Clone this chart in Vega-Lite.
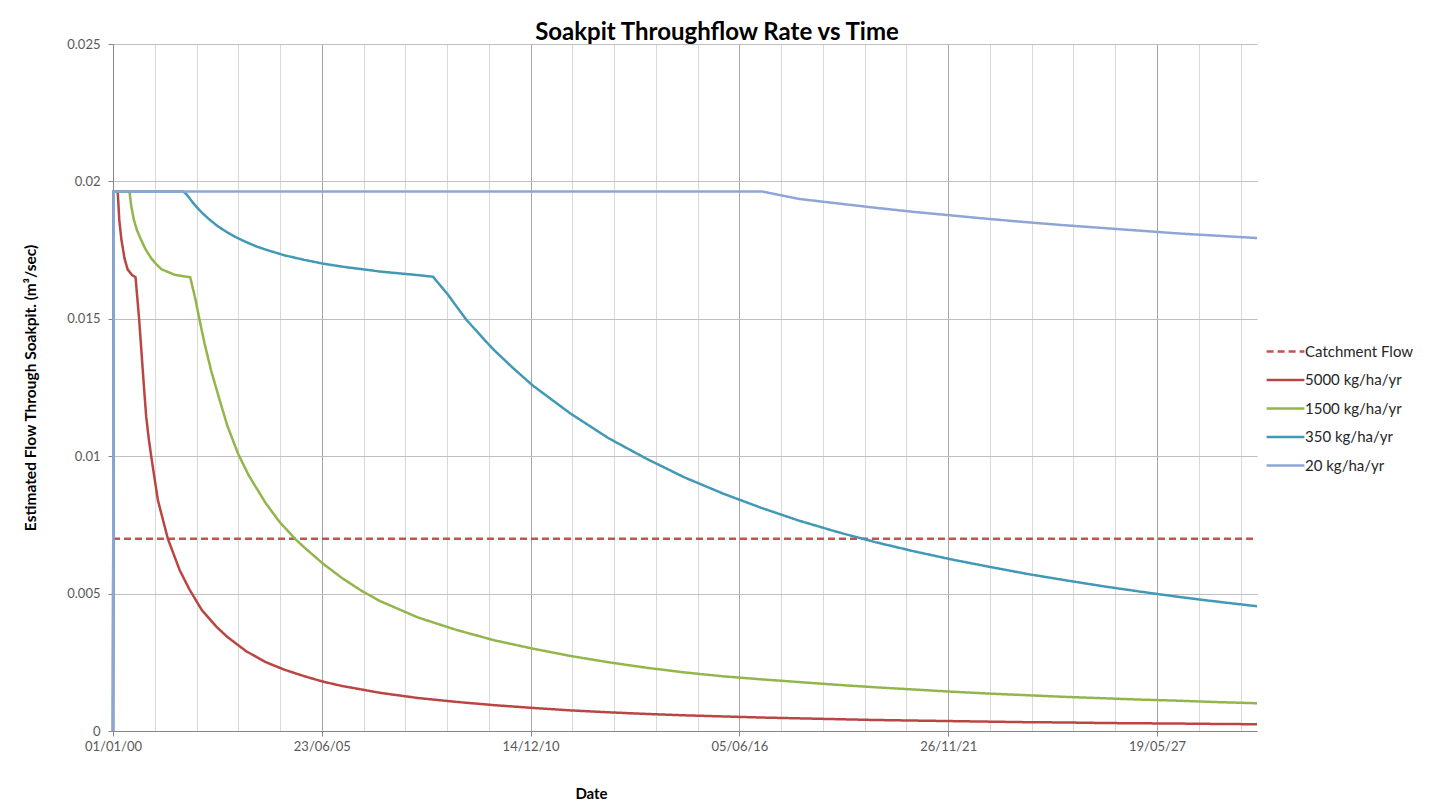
{
  "$schema": "https://vega.github.io/schema/vega-lite/v6.json",
  "autosize": {"type": "none"},
  "padding": {"left": 113, "top": 44, "right": 177, "bottom": 74},
  "width": 1144,
  "height": 687,
  "background": "white",
  "config": {"font": "Lato", "view": {"stroke": null}},
  "title": {"text": "Soakpit Throughflow Rate vs Time", "fontSize": 24, "fontWeight": "bold", "color": "#000000", "anchor": "middle", "frame": "group", "dx": 32, "offset": -7},
  "data": {"values": [
    {"date": "2000-01-01", "series": "Catchment Flow", "flow": 0.007},
    {"date": "2030-01-01", "series": "Catchment Flow", "flow": 0.007},

    {"date": "2000-01-01", "series": "5000 kg/ha/yr", "flow": 0},
    {"date": "2000-01-08", "series": "5000 kg/ha/yr", "flow": 0.01963},
    {"date": "2000-02-15", "series": "5000 kg/ha/yr", "flow": 0.01963},
    {"date": "2000-02-23", "series": "5000 kg/ha/yr", "flow": 0.0191},
    {"date": "2000-03-01", "series": "5000 kg/ha/yr", "flow": 0.0186},
    {"date": "2000-03-21", "series": "5000 kg/ha/yr", "flow": 0.0179},
    {"date": "2000-04-20", "series": "5000 kg/ha/yr", "flow": 0.0172},
    {"date": "2000-05-20", "series": "5000 kg/ha/yr", "flow": 0.0168},
    {"date": "2000-06-29", "series": "5000 kg/ha/yr", "flow": 0.0166},
    {"date": "2000-08-04", "series": "5000 kg/ha/yr", "flow": 0.01651},
    {"date": "2000-09-07", "series": "5000 kg/ha/yr", "flow": 0.015},
    {"date": "2000-10-07", "series": "5000 kg/ha/yr", "flow": 0.0134},
    {"date": "2000-10-25", "series": "5000 kg/ha/yr", "flow": 0.01245},
    {"date": "2000-11-14", "series": "5000 kg/ha/yr", "flow": 0.01144},
    {"date": "2000-12-08", "series": "5000 kg/ha/yr", "flow": 0.01065},
    {"date": "2001-01-01", "series": "5000 kg/ha/yr", "flow": 0.01},
    {"date": "2001-03-06", "series": "5000 kg/ha/yr", "flow": 0.0084},
    {"date": "2001-06-09", "series": "5000 kg/ha/yr", "flow": 0.007},
    {"date": "2001-09-30", "series": "5000 kg/ha/yr", "flow": 0.00586},
    {"date": "2002-01-01", "series": "5000 kg/ha/yr", "flow": 0.00516},
    {"date": "2002-05-01", "series": "5000 kg/ha/yr", "flow": 0.0044},
    {"date": "2002-09-16", "series": "5000 kg/ha/yr", "flow": 0.0038},
    {"date": "2003-01-01", "series": "5000 kg/ha/yr", "flow": 0.00342},
    {"date": "2003-07-01", "series": "5000 kg/ha/yr", "flow": 0.0029},
    {"date": "2004-01-01", "series": "5000 kg/ha/yr", "flow": 0.00251},
    {"date": "2004-07-01", "series": "5000 kg/ha/yr", "flow": 0.00223},
    {"date": "2005-01-01", "series": "5000 kg/ha/yr", "flow": 0.002},
    {"date": "2005-07-01", "series": "5000 kg/ha/yr", "flow": 0.0018},
    {"date": "2006-01-01", "series": "5000 kg/ha/yr", "flow": 0.00164},
    {"date": "2007-01-01", "series": "5000 kg/ha/yr", "flow": 0.00139},
    {"date": "2008-01-01", "series": "5000 kg/ha/yr", "flow": 0.0012},
    {"date": "2009-01-01", "series": "5000 kg/ha/yr", "flow": 0.00106},
    {"date": "2010-01-01", "series": "5000 kg/ha/yr", "flow": 0.00094},
    {"date": "2011-01-01", "series": "5000 kg/ha/yr", "flow": 0.00084},
    {"date": "2012-01-01", "series": "5000 kg/ha/yr", "flow": 0.00075},
    {"date": "2013-01-01", "series": "5000 kg/ha/yr", "flow": 0.00068},
    {"date": "2014-01-01", "series": "5000 kg/ha/yr", "flow": 0.00062},
    {"date": "2015-01-01", "series": "5000 kg/ha/yr", "flow": 0.00057},
    {"date": "2016-01-01", "series": "5000 kg/ha/yr", "flow": 0.00053},
    {"date": "2017-01-01", "series": "5000 kg/ha/yr", "flow": 0.00049},
    {"date": "2018-01-01", "series": "5000 kg/ha/yr", "flow": 0.00046},
    {"date": "2019-01-01", "series": "5000 kg/ha/yr", "flow": 0.00043},
    {"date": "2020-01-01", "series": "5000 kg/ha/yr", "flow": 0.0004},
    {"date": "2021-01-01", "series": "5000 kg/ha/yr", "flow": 0.00038},
    {"date": "2022-01-01", "series": "5000 kg/ha/yr", "flow": 0.00036},
    {"date": "2023-01-01", "series": "5000 kg/ha/yr", "flow": 0.00034},
    {"date": "2024-01-01", "series": "5000 kg/ha/yr", "flow": 0.00032},
    {"date": "2025-01-01", "series": "5000 kg/ha/yr", "flow": 0.00031},
    {"date": "2026-01-01", "series": "5000 kg/ha/yr", "flow": 0.00029},
    {"date": "2027-01-01", "series": "5000 kg/ha/yr", "flow": 0.00028},
    {"date": "2028-01-01", "series": "5000 kg/ha/yr", "flow": 0.00027},
    {"date": "2029-01-01", "series": "5000 kg/ha/yr", "flow": 0.000256},
    {"date": "2030-01-01", "series": "5000 kg/ha/yr", "flow": 0.000246},

    {"date": "2000-01-01", "series": "1500 kg/ha/yr", "flow": 0},
    {"date": "2000-01-08", "series": "1500 kg/ha/yr", "flow": 0.01963},
    {"date": "2000-06-07", "series": "1500 kg/ha/yr", "flow": 0.01963},
    {"date": "2000-06-24", "series": "1500 kg/ha/yr", "flow": 0.0191},
    {"date": "2000-07-19", "series": "1500 kg/ha/yr", "flow": 0.0186},
    {"date": "2000-08-18", "series": "1500 kg/ha/yr", "flow": 0.01822},
    {"date": "2000-09-23", "series": "1500 kg/ha/yr", "flow": 0.0179},
    {"date": "2000-11-06", "series": "1500 kg/ha/yr", "flow": 0.01754},
    {"date": "2001-01-01", "series": "1500 kg/ha/yr", "flow": 0.0172},
    {"date": "2001-02-20", "series": "1500 kg/ha/yr", "flow": 0.01698},
    {"date": "2001-04-11", "series": "1500 kg/ha/yr", "flow": 0.0168},
    {"date": "2001-08-15", "series": "1500 kg/ha/yr", "flow": 0.0166},
    {"date": "2002-01-10", "series": "1500 kg/ha/yr", "flow": 0.01651},
    {"date": "2002-03-01", "series": "1500 kg/ha/yr", "flow": 0.0157},
    {"date": "2002-04-09", "series": "1500 kg/ha/yr", "flow": 0.01496},
    {"date": "2002-05-27", "series": "1500 kg/ha/yr", "flow": 0.0141},
    {"date": "2002-07-30", "series": "1500 kg/ha/yr", "flow": 0.0131},
    {"date": "2002-10-18", "series": "1500 kg/ha/yr", "flow": 0.01205},
    {"date": "2003-01-01", "series": "1500 kg/ha/yr", "flow": 0.0111},
    {"date": "2003-04-12", "series": "1500 kg/ha/yr", "flow": 0.0101},
    {"date": "2003-07-24", "series": "1500 kg/ha/yr", "flow": 0.0093},
    {"date": "2003-11-06", "series": "1500 kg/ha/yr", "flow": 0.00865},
    {"date": "2004-01-01", "series": "1500 kg/ha/yr", "flow": 0.0083},
    {"date": "2004-05-16", "series": "1500 kg/ha/yr", "flow": 0.0076},
    {"date": "2004-10-22", "series": "1500 kg/ha/yr", "flow": 0.00695},
    {"date": "2005-01-01", "series": "1500 kg/ha/yr", "flow": 0.0067},
    {"date": "2005-07-01", "series": "1500 kg/ha/yr", "flow": 0.0061},
    {"date": "2006-01-01", "series": "1500 kg/ha/yr", "flow": 0.00557},
    {"date": "2006-07-01", "series": "1500 kg/ha/yr", "flow": 0.00512},
    {"date": "2007-01-01", "series": "1500 kg/ha/yr", "flow": 0.00473},
    {"date": "2008-01-01", "series": "1500 kg/ha/yr", "flow": 0.00413},
    {"date": "2009-01-01", "series": "1500 kg/ha/yr", "flow": 0.00368},
    {"date": "2010-01-01", "series": "1500 kg/ha/yr", "flow": 0.0033},
    {"date": "2011-01-01", "series": "1500 kg/ha/yr", "flow": 0.003},
    {"date": "2012-01-01", "series": "1500 kg/ha/yr", "flow": 0.00273},
    {"date": "2013-01-01", "series": "1500 kg/ha/yr", "flow": 0.0025},
    {"date": "2014-01-01", "series": "1500 kg/ha/yr", "flow": 0.0023},
    {"date": "2015-01-01", "series": "1500 kg/ha/yr", "flow": 0.00213},
    {"date": "2016-01-01", "series": "1500 kg/ha/yr", "flow": 0.00199},
    {"date": "2017-01-01", "series": "1500 kg/ha/yr", "flow": 0.00188},
    {"date": "2018-01-01", "series": "1500 kg/ha/yr", "flow": 0.00178},
    {"date": "2019-01-01", "series": "1500 kg/ha/yr", "flow": 0.00168},
    {"date": "2020-01-01", "series": "1500 kg/ha/yr", "flow": 0.00159},
    {"date": "2021-01-01", "series": "1500 kg/ha/yr", "flow": 0.00151},
    {"date": "2022-01-01", "series": "1500 kg/ha/yr", "flow": 0.00143},
    {"date": "2023-01-01", "series": "1500 kg/ha/yr", "flow": 0.00136},
    {"date": "2024-01-01", "series": "1500 kg/ha/yr", "flow": 0.0013},
    {"date": "2025-01-01", "series": "1500 kg/ha/yr", "flow": 0.00124},
    {"date": "2026-01-01", "series": "1500 kg/ha/yr", "flow": 0.00119},
    {"date": "2027-01-01", "series": "1500 kg/ha/yr", "flow": 0.00114},
    {"date": "2028-01-01", "series": "1500 kg/ha/yr", "flow": 0.0011},
    {"date": "2029-01-01", "series": "1500 kg/ha/yr", "flow": 0.00105},
    {"date": "2030-01-01", "series": "1500 kg/ha/yr", "flow": 0.00101},

    {"date": "2000-01-01", "series": "350 kg/ha/yr", "flow": 0},
    {"date": "2000-01-08", "series": "350 kg/ha/yr", "flow": 0.01963},
    {"date": "2001-11-04", "series": "350 kg/ha/yr", "flow": 0.01963},
    {"date": "2001-12-01", "series": "350 kg/ha/yr", "flow": 0.01955},
    {"date": "2002-01-01", "series": "350 kg/ha/yr", "flow": 0.0194},
    {"date": "2002-01-30", "series": "350 kg/ha/yr", "flow": 0.01925},
    {"date": "2002-03-09", "series": "350 kg/ha/yr", "flow": 0.01908},
    {"date": "2002-04-30", "series": "350 kg/ha/yr", "flow": 0.01887},
    {"date": "2002-07-01", "series": "350 kg/ha/yr", "flow": 0.01865},
    {"date": "2002-09-27", "series": "350 kg/ha/yr", "flow": 0.01838},
    {"date": "2003-01-01", "series": "350 kg/ha/yr", "flow": 0.01814},
    {"date": "2003-04-02", "series": "350 kg/ha/yr", "flow": 0.01795},
    {"date": "2003-07-01", "series": "350 kg/ha/yr", "flow": 0.01779},
    {"date": "2003-10-01", "series": "350 kg/ha/yr", "flow": 0.01764},
    {"date": "2004-01-01", "series": "350 kg/ha/yr", "flow": 0.01752},
    {"date": "2004-07-01", "series": "350 kg/ha/yr", "flow": 0.01731},
    {"date": "2005-01-01", "series": "350 kg/ha/yr", "flow": 0.01715},
    {"date": "2005-07-01", "series": "350 kg/ha/yr", "flow": 0.01701},
    {"date": "2006-01-01", "series": "350 kg/ha/yr", "flow": 0.0169},
    {"date": "2007-01-01", "series": "350 kg/ha/yr", "flow": 0.01672},
    {"date": "2008-01-01", "series": "350 kg/ha/yr", "flow": 0.01659},
    {"date": "2008-05-24", "series": "350 kg/ha/yr", "flow": 0.01653},
    {"date": "2008-10-15", "series": "350 kg/ha/yr", "flow": 0.01587},
    {"date": "2009-01-13", "series": "350 kg/ha/yr", "flow": 0.0154},
    {"date": "2009-04-09", "series": "350 kg/ha/yr", "flow": 0.01496},
    {"date": "2009-08-01", "series": "350 kg/ha/yr", "flow": 0.01448},
    {"date": "2009-11-12", "series": "350 kg/ha/yr", "flow": 0.01405},
    {"date": "2010-01-01", "series": "350 kg/ha/yr", "flow": 0.01385},
    {"date": "2010-07-01", "series": "350 kg/ha/yr", "flow": 0.0132},
    {"date": "2011-01-01", "series": "350 kg/ha/yr", "flow": 0.01258},
    {"date": "2012-01-01", "series": "350 kg/ha/yr", "flow": 0.01155},
    {"date": "2013-01-01", "series": "350 kg/ha/yr", "flow": 0.01065},
    {"date": "2014-01-01", "series": "350 kg/ha/yr", "flow": 0.0099},
    {"date": "2015-01-01", "series": "350 kg/ha/yr", "flow": 0.00922},
    {"date": "2016-01-01", "series": "350 kg/ha/yr", "flow": 0.00864},
    {"date": "2017-01-01", "series": "350 kg/ha/yr", "flow": 0.00812},
    {"date": "2018-01-01", "series": "350 kg/ha/yr", "flow": 0.00765},
    {"date": "2019-01-01", "series": "350 kg/ha/yr", "flow": 0.00724},
    {"date": "2020-01-01", "series": "350 kg/ha/yr", "flow": 0.00687},
    {"date": "2021-01-01", "series": "350 kg/ha/yr", "flow": 0.00654},
    {"date": "2022-01-01", "series": "350 kg/ha/yr", "flow": 0.00624},
    {"date": "2023-01-01", "series": "350 kg/ha/yr", "flow": 0.00597},
    {"date": "2024-01-01", "series": "350 kg/ha/yr", "flow": 0.00571},
    {"date": "2025-01-01", "series": "350 kg/ha/yr", "flow": 0.00548},
    {"date": "2026-01-01", "series": "350 kg/ha/yr", "flow": 0.00526},
    {"date": "2027-01-01", "series": "350 kg/ha/yr", "flow": 0.00506},
    {"date": "2028-01-01", "series": "350 kg/ha/yr", "flow": 0.00487},
    {"date": "2029-01-01", "series": "350 kg/ha/yr", "flow": 0.0047},
    {"date": "2030-01-01", "series": "350 kg/ha/yr", "flow": 0.00454},

    {"date": "2000-01-01", "series": "20 kg/ha/yr", "flow": 0},
    {"date": "2000-01-08", "series": "20 kg/ha/yr", "flow": 0.01963},
    {"date": "2017-01-12", "series": "20 kg/ha/yr", "flow": 0.01963},
    {"date": "2017-07-01", "series": "20 kg/ha/yr", "flow": 0.0195},
    {"date": "2018-01-01", "series": "20 kg/ha/yr", "flow": 0.01936},
    {"date": "2019-01-01", "series": "20 kg/ha/yr", "flow": 0.0192},
    {"date": "2020-01-01", "series": "20 kg/ha/yr", "flow": 0.01904},
    {"date": "2021-01-01", "series": "20 kg/ha/yr", "flow": 0.01889},
    {"date": "2022-01-01", "series": "20 kg/ha/yr", "flow": 0.01876},
    {"date": "2023-01-01", "series": "20 kg/ha/yr", "flow": 0.01863},
    {"date": "2024-01-01", "series": "20 kg/ha/yr", "flow": 0.01851},
    {"date": "2025-01-01", "series": "20 kg/ha/yr", "flow": 0.0184},
    {"date": "2026-01-01", "series": "20 kg/ha/yr", "flow": 0.0183},
    {"date": "2027-01-01", "series": "20 kg/ha/yr", "flow": 0.0182},
    {"date": "2028-01-01", "series": "20 kg/ha/yr", "flow": 0.0181},
    {"date": "2029-01-01", "series": "20 kg/ha/yr", "flow": 0.01802},
    {"date": "2030-01-01", "series": "20 kg/ha/yr", "flow": 0.01794}
  ]},
  "encoding": {
    "y": {
      "field": "flow", "type": "quantitative",
      "scale": {"domain": [0, 0.025], "nice": false},
      "axis": {
        "values": [0, 0.005, 0.01, 0.015, 0.02, 0.025],
        "format": ".3~f",
        "title": "Estimated Flow Through Soakpit. (m³/sec)",
        "titleFontSize": 15.5, "titleFontWeight": "bold", "titleColor": "#000000",
        "titleX": -83, "titleY": 343.5, "titleAngle": -90, "titleAlign": "center", "titleBaseline": "middle",
        "labelFontSize": 13, "labelColor": "#595959", "labelPadding": 8,
        "tickSize": 5, "tickColor": "#868686", "domainColor": "#868686",
        "grid": true, "gridColor": "#BFBFBF"
      }
    },
    "color": {
      "field": "series", "type": "nominal",
      "scale": {
        "domain": ["Catchment Flow", "5000 kg/ha/yr", "1500 kg/ha/yr", "350 kg/ha/yr", "20 kg/ha/yr"],
        "range": ["#C8504D", "#BA4644", "#92B64C", "#4299B5", "#8EA6D6"]
      },
      "legend": {
        "title": null, "orient": "none", "legendX": 1157, "legendY": 292,
        "symbolType": "M-1.35,0H1.35", "symbolSize": 784, "symbolStrokeWidth": 2.5,
        "labelFontSize": 15, "labelColor": "#262626", "labelOffset": 4, "rowPadding": 4.5
      }
    },
    "strokeDash": {
      "field": "series", "type": "nominal",
      "scale": {
        "domain": ["Catchment Flow", "5000 kg/ha/yr", "1500 kg/ha/yr", "350 kg/ha/yr", "20 kg/ha/yr"],
        "range": [[7, 4], [1, 0], [1, 0], [1, 0], [1, 0]]
      },
      "legend": {
        "title": null, "orient": "none", "legendX": 1157, "legendY": 292,
        "symbolType": "M-1.35,0H1.35", "symbolSize": 784, "symbolStrokeWidth": 2.5,
        "labelFontSize": 15, "labelColor": "#262626", "labelOffset": 4, "rowPadding": 4.5
      }
    }
  },
  "layer": [
    {
      "transform": [{"filter": "datum.series === 'Catchment Flow'"}],
      "mark": {"type": "line", "strokeWidth": 2.5},
      "encoding": {
        "x": {
          "field": "date", "type": "temporal",
          "scale": {"type": "utc", "domain": [946684800000, 1893456000000]},
          "axis": {
            "orient": "top", "labels": false, "ticks": false, "domain": false, "title": null,
            "grid": true, "gridColor": "#D9D9D9",
            "values": [946684800000, 981244800000, 1015804800000, 1050364800000, 1084924800000, 1119484800000, 1154044800000, 1188604800000, 1223164800000, 1257724800000, 1292284800000, 1326844800000, 1361404800000, 1395964800000, 1430524800000, 1465084800000, 1499644800000, 1534204800000, 1568764800000, 1603324800000, 1637884800000, 1672444800000, 1707004800000, 1741564800000, 1776124800000, 1810684800000, 1845244800000, 1879804800000]
          }
        }
      }
    },
    {
      "transform": [{"filter": "datum.series !== 'Catchment Flow'"}],
      "mark": {"type": "line", "strokeWidth": 2.5},
      "encoding": {
        "x": {
          "field": "date", "type": "temporal",
          "scale": {"type": "utc", "domain": [946684800000, 1893456000000]},
          "axis": {
            "orient": "bottom",
            "values": [946684800000, 1119484800000, 1292284800000, 1465084800000, 1637884800000, 1810684800000],
            "format": "%d/%m/%y", "labelFlush": false,
            "labelFontSize": 13, "labelColor": "#595959", "labelPadding": 4,
            "tickSize": 5, "tickColor": "#868686", "domainColor": "#868686",
            "grid": true, "gridColor": "#A6A6A6",
            "title": "Date", "titleFontSize": 15, "titleFontWeight": "bold", "titleColor": "#000000",
            "titleX": 478, "titleY": 62, "titleAlign": "center", "titleBaseline": "middle"
          }
        }
      }
    }
  ],
  "resolve": {"axis": {"x": "independent"}}
}
